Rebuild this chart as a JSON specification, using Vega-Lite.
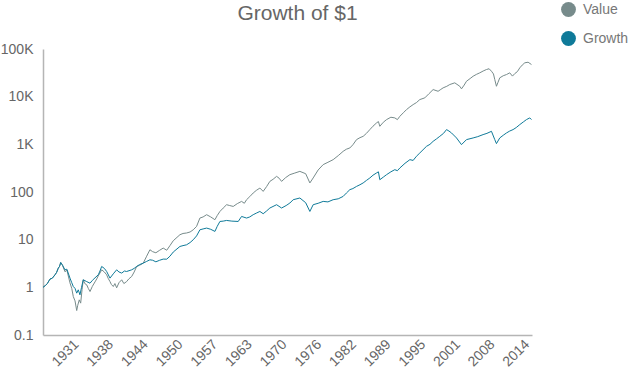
{
  "$schema": "https://vega.github.io/schema/vega-lite/v6.json",
  "width": 489,
  "height": 286,
  "autosize": {"type": "none"},
  "padding": {"left": 43, "top": 49, "right": 97, "bottom": 38},
  "background": "transparent",
  "title": {"text": "Growth of $1", "fontSize": 21, "color": "#666666", "font": "Liberation Sans", "fontWeight": "normal", "anchor": "middle", "dx": 10, "offset": 0, "dy": 22},
  "config": {"view": {"stroke": null}},
  "data": {"values": [
    {"year":1925.2,"series":"Value","value":1.0},{"year":1925.6,"series":"Value","value":1.08},{"year":1926.0,"series":"Value","value":1.2},{"year":1926.49,"series":"Value","value":1.49},{"year":1926.9,"series":"Value","value":1.55},{"year":1927.41,"series":"Value","value":1.83},{"year":1927.7,"series":"Value","value":2.05},{"year":1928.02,"series":"Value","value":2.53},{"year":1928.25,"series":"Value","value":2.75},{"year":1928.46,"series":"Value","value":3.32},{"year":1928.8,"series":"Value","value":2.9},{"year":1929.25,"series":"Value","value":2.12},{"year":1929.6,"series":"Value","value":2.3},{"year":1930.17,"series":"Value","value":1.24},{"year":1930.5,"series":"Value","value":0.95},{"year":1930.78,"series":"Value","value":0.641},{"year":1931.1,"series":"Value","value":0.52},{"year":1931.41,"series":"Value","value":0.326},{"year":1931.6,"series":"Value","value":0.42},{"year":1931.88,"series":"Value","value":0.546},{"year":1932.14,"series":"Value","value":0.466},{"year":1932.4,"series":"Value","value":0.9},{"year":1932.62,"series":"Value","value":1.44},{"year":1932.9,"series":"Value","value":1.2},{"year":1933.25,"series":"Value","value":1.13},{"year":1933.55,"series":"Value","value":0.95},{"year":1933.86,"series":"Value","value":0.816},{"year":1934.3,"series":"Value","value":1.05},{"year":1934.78,"series":"Value","value":1.3},{"year":1935.1,"series":"Value","value":1.5},{"year":1935.38,"series":"Value","value":1.74},{"year":1935.7,"series":"Value","value":2.0},{"year":1936.01,"series":"Value","value":2.33},{"year":1936.5,"series":"Value","value":2.1},{"year":1936.93,"series":"Value","value":1.83},{"year":1937.2,"series":"Value","value":1.55},{"year":1937.54,"series":"Value","value":1.32},{"year":1937.8,"series":"Value","value":1.15},{"year":1938.15,"series":"Value","value":1.04},{"year":1938.45,"series":"Value","value":1.2},{"year":1938.77,"series":"Value","value":0.976},{"year":1939.2,"series":"Value","value":1.25},{"year":1939.7,"series":"Value","value":1.44},{"year":1940.1,"series":"Value","value":1.2},{"year":1940.61,"series":"Value","value":1.32},{"year":1941.0,"series":"Value","value":1.5},{"year":1941.54,"series":"Value","value":1.69},{"year":1942.0,"series":"Value","value":2.1},{"year":1942.46,"series":"Value","value":2.74},{"year":1943.0,"series":"Value","value":2.9},{"year":1943.67,"series":"Value","value":3.22},{"year":1944.3,"series":"Value","value":4.5},{"year":1944.9,"series":"Value","value":6.14},{"year":1945.4,"series":"Value","value":5.6},{"year":1946.0,"series":"Value","value":5.31},{"year":1946.7,"series":"Value","value":6.0},{"year":1947.35,"series":"Value","value":6.66},{"year":1948.0,"series":"Value","value":6.0},{"year":1948.59,"series":"Value","value":7.5},{"year":1949.2,"series":"Value","value":9.5},{"year":1950.43,"series":"Value","value":12.7},{"year":1951.0,"series":"Value","value":13.5},{"year":1951.66,"series":"Value","value":13.8},{"year":1952.3,"series":"Value","value":14.5},{"year":1952.88,"series":"Value","value":16.1},{"year":1953.5,"series":"Value","value":19},{"year":1954.11,"series":"Value","value":28.4},{"year":1954.7,"series":"Value","value":30},{"year":1955.35,"series":"Value","value":33.4},{"year":1956.1,"series":"Value","value":30},{"year":1956.88,"series":"Value","value":26.2},{"year":1957.3,"series":"Value","value":32},{"year":1957.8,"series":"Value","value":39.1},{"year":1958.4,"series":"Value","value":46},{"year":1959.03,"series":"Value","value":54.1},{"year":1959.6,"series":"Value","value":52},{"year":1960.25,"series":"Value","value":49.8},{"year":1961.0,"series":"Value","value":57},{"year":1961.79,"series":"Value","value":63.5},{"year":1962.3,"series":"Value","value":58},{"year":1962.71,"series":"Value","value":68.9},{"year":1963.3,"series":"Value","value":80},{"year":1963.93,"series":"Value","value":95.3},{"year":1964.5,"series":"Value","value":108},{"year":1965.16,"series":"Value","value":121},{"year":1965.77,"series":"Value","value":103},{"year":1966.4,"series":"Value","value":130},{"year":1967.0,"series":"Value","value":167},{"year":1967.6,"series":"Value","value":185},{"year":1968.24,"series":"Value","value":213},{"year":1968.7,"series":"Value","value":195},{"year":1969.16,"series":"Value","value":167},{"year":1969.9,"series":"Value","value":200},{"year":1970.69,"series":"Value","value":231},{"year":1971.6,"series":"Value","value":250},{"year":1972.53,"series":"Value","value":271},{"year":1973.6,"series":"Value","value":242},{"year":1974.37,"series":"Value","value":155},{"year":1974.98,"series":"Value","value":197},{"year":1975.9,"series":"Value","value":290},{"year":1976.82,"series":"Value","value":375},{"year":1977.7,"series":"Value","value":420},{"year":1978.66,"series":"Value","value":477},{"year":1979.6,"series":"Value","value":580},{"year":1980.5,"series":"Value","value":713},{"year":1981.1,"series":"Value","value":790},{"year":1981.74,"series":"Value","value":840},{"year":1982.3,"series":"Value","value":980},{"year":1982.97,"series":"Value","value":1256},{"year":1983.6,"series":"Value","value":1380},{"year":1984.19,"series":"Value","value":1473},{"year":1984.8,"series":"Value","value":1700},{"year":1985.42,"series":"Value","value":2037},{"year":1986.0,"series":"Value","value":2400},{"year":1986.66,"series":"Value","value":2816},{"year":1987.0,"series":"Value","value":3000},{"year":1987.26,"series":"Value","value":2390},{"year":1987.9,"series":"Value","value":2900},{"year":1988.5,"series":"Value","value":3303},{"year":1989.3,"series":"Value","value":3700},{"year":1990.02,"series":"Value","value":3586},{"year":1990.5,"series":"Value","value":3300},{"year":1990.95,"series":"Value","value":3873},{"year":1991.6,"series":"Value","value":4600},{"year":1992.18,"series":"Value","value":5358},{"year":1992.8,"series":"Value","value":6100},{"year":1993.4,"series":"Value","value":6823},{"year":1994.0,"series":"Value","value":7500},{"year":1994.63,"series":"Value","value":8690},{"year":1995.55,"series":"Value","value":9440},{"year":1996.3,"series":"Value","value":11500},{"year":1997.08,"series":"Value","value":14090},{"year":1998.0,"series":"Value","value":12980},{"year":1998.5,"series":"Value","value":14200},{"year":1998.92,"series":"Value","value":15300},{"year":1999.6,"series":"Value","value":16500},{"year":2000.15,"series":"Value","value":17960},{"year":2001.07,"series":"Value","value":19500},{"year":2001.99,"series":"Value","value":16540},{"year":2002.31,"series":"Value","value":14590},{"year":2002.8,"series":"Value","value":17500},{"year":2003.23,"series":"Value","value":21070},{"year":2003.9,"series":"Value","value":24000},{"year":2004.45,"series":"Value","value":26840},{"year":2005.1,"series":"Value","value":29500},{"year":2005.68,"series":"Value","value":31620},{"year":2006.3,"series":"Value","value":34500},{"year":2006.91,"series":"Value","value":37100},{"year":2007.4,"series":"Value","value":38500},{"year":2007.83,"series":"Value","value":34170},{"year":2008.2,"series":"Value","value":30000},{"year":2008.44,"series":"Value","value":22860},{"year":2008.75,"series":"Value","value":16540},{"year":2009.0,"series":"Value","value":19500},{"year":2009.36,"series":"Value","value":24830},{"year":2010.0,"series":"Value","value":27500},{"year":2010.6,"series":"Value","value":29110},{"year":2011.2,"series":"Value","value":31620},{"year":2011.7,"series":"Value","value":27000},{"year":2012.13,"series":"Value","value":30500},{"year":2012.6,"series":"Value","value":33500},{"year":2013.05,"series":"Value","value":40270},{"year":2013.5,"series":"Value","value":46000},{"year":2013.97,"series":"Value","value":51290},{"year":2014.58,"series":"Value","value":52810},{"year":2015.2,"series":"Value","value":47230},
    {"year":1925.2,"series":"Growth","value":1.0},{"year":1925.6,"series":"Growth","value":1.08},{"year":1926.0,"series":"Growth","value":1.2},{"year":1926.49,"series":"Growth","value":1.49},{"year":1926.9,"series":"Growth","value":1.55},{"year":1927.41,"series":"Growth","value":1.83},{"year":1927.7,"series":"Growth","value":2.05},{"year":1928.02,"series":"Growth","value":2.53},{"year":1928.25,"series":"Growth","value":2.75},{"year":1928.46,"series":"Growth","value":3.32},{"year":1928.8,"series":"Growth","value":2.9},{"year":1929.25,"series":"Growth","value":2.33},{"year":1929.6,"series":"Growth","value":2.4},{"year":1930.17,"series":"Growth","value":1.56},{"year":1930.5,"series":"Growth","value":1.25},{"year":1930.78,"series":"Growth","value":1.04},{"year":1931.1,"series":"Growth","value":0.95},{"year":1931.41,"series":"Growth","value":0.755},{"year":1931.7,"series":"Growth","value":0.886},{"year":1932.01,"series":"Growth","value":0.696},{"year":1932.3,"series":"Growth","value":1.0},{"year":1932.62,"series":"Growth","value":1.44},{"year":1933.25,"series":"Growth","value":1.32},{"year":1933.86,"series":"Growth","value":1.22},{"year":1934.3,"series":"Growth","value":1.4},{"year":1934.78,"series":"Growth","value":1.58},{"year":1935.38,"series":"Growth","value":1.83},{"year":1935.7,"series":"Growth","value":2.2},{"year":1936.01,"series":"Growth","value":2.74},{"year":1936.5,"series":"Growth","value":2.5},{"year":1936.93,"series":"Growth","value":2.15},{"year":1937.54,"series":"Growth","value":1.56},{"year":1938.15,"series":"Growth","value":1.92},{"year":1938.77,"series":"Growth","value":2.33},{"year":1939.2,"series":"Growth","value":2.1},{"year":1939.7,"series":"Growth","value":1.99},{"year":1940.2,"series":"Growth","value":2.2},{"year":1940.61,"series":"Growth","value":2.15},{"year":1941.54,"series":"Growth","value":2.33},{"year":1942.0,"series":"Growth","value":2.5},{"year":1942.46,"series":"Growth","value":2.74},{"year":1943.0,"series":"Growth","value":3.0},{"year":1943.67,"series":"Growth","value":3.22},{"year":1944.3,"series":"Growth","value":3.5},{"year":1944.9,"series":"Growth","value":3.78},{"year":1945.4,"series":"Growth","value":3.7},{"year":1946.0,"series":"Growth","value":3.43},{"year":1946.7,"series":"Growth","value":3.7},{"year":1947.35,"series":"Growth","value":3.91},{"year":1948.0,"series":"Growth","value":3.9},{"year":1948.59,"series":"Growth","value":4.5},{"year":1949.2,"series":"Growth","value":5.5},{"year":1950.43,"series":"Growth","value":7.2},{"year":1951.0,"series":"Growth","value":7.5},{"year":1951.66,"series":"Growth","value":7.81},{"year":1952.3,"series":"Growth","value":8.7},{"year":1952.88,"series":"Growth","value":9.95},{"year":1953.5,"series":"Growth","value":12},{"year":1954.11,"series":"Growth","value":16.1},{"year":1954.7,"series":"Growth","value":16.8},{"year":1955.35,"series":"Growth","value":17.5},{"year":1956.1,"series":"Growth","value":16.5},{"year":1956.88,"series":"Growth","value":14.9},{"year":1957.3,"series":"Growth","value":19},{"year":1957.8,"series":"Growth","value":24.1},{"year":1958.4,"series":"Growth","value":24.5},{"year":1959.03,"series":"Growth","value":25.3},{"year":1960.0,"series":"Growth","value":24.5},{"year":1961.17,"series":"Growth","value":24.1},{"year":1961.79,"series":"Growth","value":30.7},{"year":1962.71,"series":"Growth","value":28.4},{"year":1963.3,"series":"Growth","value":30},{"year":1963.93,"series":"Growth","value":33.4},{"year":1964.5,"series":"Growth","value":36},{"year":1965.16,"series":"Growth","value":39.1},{"year":1965.77,"series":"Growth","value":35},{"year":1966.4,"series":"Growth","value":40},{"year":1967.0,"series":"Growth","value":46.1},{"year":1968.24,"series":"Growth","value":54.1},{"year":1969.16,"series":"Growth","value":46.1},{"year":1970.0,"series":"Growth","value":52},{"year":1970.69,"series":"Growth","value":58.7},{"year":1971.3,"series":"Growth","value":68.9},{"year":1972.53,"series":"Growth","value":74.8},{"year":1973.6,"series":"Growth","value":59.6},{"year":1974.37,"series":"Growth","value":39.1},{"year":1974.98,"series":"Growth","value":54.1},{"year":1975.9,"series":"Growth","value":58},{"year":1976.82,"series":"Growth","value":63.5},{"year":1977.7,"series":"Growth","value":62},{"year":1978.66,"series":"Growth","value":68.9},{"year":1979.6,"series":"Growth","value":72},{"year":1980.5,"series":"Growth","value":80.8},{"year":1981.1,"series":"Growth","value":95},{"year":1981.74,"series":"Growth","value":112},{"year":1982.3,"series":"Growth","value":118},{"year":1982.97,"series":"Growth","value":131},{"year":1983.6,"series":"Growth","value":142},{"year":1984.19,"series":"Growth","value":155},{"year":1984.8,"series":"Growth","value":175},{"year":1985.42,"series":"Growth","value":197},{"year":1986.0,"series":"Growth","value":225},{"year":1986.66,"series":"Growth","value":251},{"year":1987.0,"series":"Growth","value":265},{"year":1987.26,"series":"Growth","value":181},{"year":1987.9,"series":"Growth","value":205},{"year":1988.5,"series":"Growth","value":231},{"year":1989.3,"series":"Growth","value":265},{"year":1990.02,"series":"Growth","value":294},{"year":1990.5,"series":"Growth","value":280},{"year":1990.95,"series":"Growth","value":319},{"year":1991.9,"series":"Growth","value":400},{"year":1992.8,"series":"Growth","value":477},{"year":1993.4,"series":"Growth","value":460},{"year":1994.0,"series":"Growth","value":560},{"year":1994.63,"series":"Growth","value":659},{"year":1995.86,"series":"Growth","value":908},{"year":1996.5,"series":"Growth","value":1000},{"year":1997.08,"series":"Growth","value":1156},{"year":1997.7,"series":"Growth","value":1300},{"year":1998.31,"series":"Growth","value":1473},{"year":1999.0,"series":"Growth","value":1700},{"year":1999.55,"series":"Growth","value":2037},{"year":2000.0,"series":"Growth","value":1900},{"year":2000.47,"series":"Growth","value":1734},{"year":2001.39,"series":"Growth","value":1362},{"year":2002.31,"series":"Growth","value":986},{"year":2003.23,"series":"Growth","value":1256},{"year":2004.45,"series":"Growth","value":1362},{"year":2005.3,"series":"Growth","value":1450},{"year":2006.29,"series":"Growth","value":1600},{"year":2007.0,"series":"Growth","value":1700},{"year":2007.83,"series":"Growth","value":1876},{"year":2008.44,"series":"Growth","value":1256},{"year":2008.75,"series":"Growth","value":1035},{"year":2009.36,"series":"Growth","value":1362},{"year":2010.0,"series":"Growth","value":1550},{"year":2010.6,"series":"Growth","value":1734},{"year":2011.2,"series":"Growth","value":1900},{"year":2011.81,"series":"Growth","value":2037},{"year":2012.4,"series":"Growth","value":2250},{"year":2013.05,"series":"Growth","value":2594},{"year":2013.7,"series":"Growth","value":2950},{"year":2014.28,"series":"Growth","value":3303},{"year":2014.89,"series":"Growth","value":3586},{"year":2015.2,"series":"Growth","value":3303}
  ]},
  "mark": {"type": "line", "strokeWidth": 1, "interpolate": "linear"},
  "encoding": {
    "x": {
      "field": "year", "type": "quantitative",
      "scale": {"domain": [1925.2, 2015.3], "nice": false, "zero": false},
      "axis": {
        "title": null, "grid": false, "ticks": false,
        "values": [1931.68, 1938.07, 1944.46, 1950.85, 1957.24, 1963.63, 1970.02, 1976.41, 1982.8, 1989.19, 1995.58, 2001.97, 2008.36, 2014.75],
        "labelExpr": "'' + floor(datum.value)",
        "labelAngle": -45, "labelAlign": "right", "labelBaseline": "top",
        "labelFont": "Liberation Sans", "labelFontSize": 14, "labelColor": "#666666",
        "labelPadding": 2, "labelOffset": -7, "labelFlush": false, "labelOverlap": false,
        "domainColor": "#b5b5b5", "domainWidth": 1.5
      }
    },
    "y": {
      "field": "value", "type": "quantitative",
      "scale": {"type": "log", "domain": [0.1, 100000], "nice": false},
      "axis": {
        "title": null, "grid": false, "ticks": false,
        "values": [0.1, 1, 10, 100, 1000, 10000, 100000],
        "labelExpr": "datum.value >= 1000 ? (datum.value / 1000) + 'K' : '' + datum.value",
        "labelFont": "Liberation Sans", "labelFontSize": 14, "labelColor": "#666666",
        "labelPadding": 10, "labelOverlap": false,
        "domainColor": "#b5b5b5", "domainWidth": 1.5
      }
    },
    "color": {
      "field": "series", "type": "nominal",
      "scale": {"domain": ["Value", "Growth"], "range": ["#778b8b", "#0f7a99"]},
      "legend": {
        "title": null, "orient": "none", "legendX": 518, "legendY": -47,
        "symbolType": "circle", "symbolSize": 220,
        "symbolStrokeWidth": 0, "rowPadding": 14, "labelOffset": 7,
        "labelFont": "Liberation Sans", "labelFontSize": 14, "labelColor": "#777777",
        "encode": {"symbols": {"update": {"fill": {"scale": "color", "field": "value"}, "fillOpacity": {"value": 1}}}}
      }
    }
  }
}
